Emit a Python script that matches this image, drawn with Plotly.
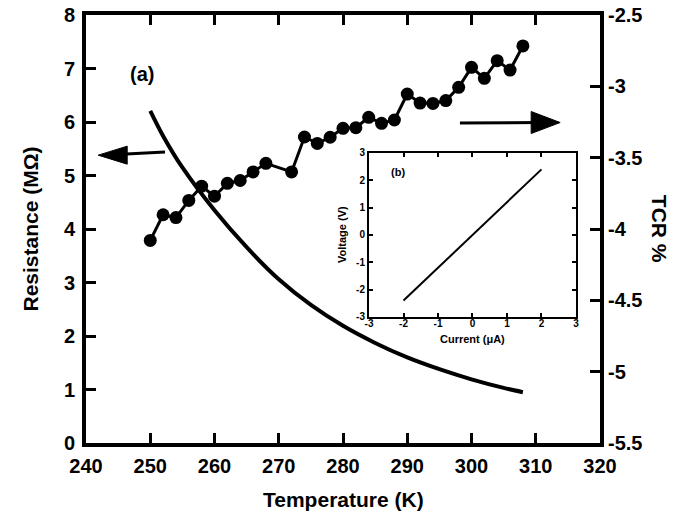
import plotly.graph_objects as go

# ---- data ----
tcr_temp = [250, 252, 254, 256, 258, 260, 262, 264, 266, 268,
            272, 274, 276, 278, 280, 282, 284, 286, 288, 290,
            292, 294, 296, 298, 300, 302, 304, 306, 308]
tcr_vals = [-4.08, -3.90, -3.92, -3.80, -3.70, -3.77, -3.68, -3.66, -3.60, -3.54,
            -3.60, -3.355, -3.40, -3.357, -3.294, -3.29, -3.217, -3.259, -3.236, -3.054,
            -3.117, -3.12, -3.10, -3.007, -2.867, -2.944, -2.82, -2.886, -2.717]

res_temp = [250, 252, 255, 260, 265, 270, 275, 280, 285, 290, 295, 300, 305, 308]
res_vals = [6.21, 5.74, 5.15, 4.35, 3.66, 3.06, 2.58, 2.19, 1.87, 1.60, 1.38, 1.19, 1.03, 0.95]

iv_current = [-2, 2]
iv_voltage = [-2.4, 2.4]

x_ticks = [240, 250, 260, 270, 280, 290, 300, 310, 320]
r_ticks = [0, 1, 2, 3, 4, 5, 6, 7, 8]
tcr_ticks = [-5.5, -5, -4.5, -4, -3.5, -3, -2.5]
tcr_labels = ["-5.5", "-5", "-4.5", "-4", "-3.5", "-3", "-2.5"]
inset_ticks = [-3, -2, -1, 0, 1, 2, 3]
inset_labels = ["-3", "-2", "-1", "0", "1", "2", "3"]

FONT = "Liberation Sans"
BLACK = "black"

fig = go.Figure()

fig.add_trace(go.Scatter(x=res_temp, y=res_vals, mode="lines",
                         line=dict(color=BLACK, width=4, shape="spline", smoothing=0.8),
                         xaxis="x", yaxis="y", showlegend=False))
fig.add_trace(go.Scatter(x=tcr_temp, y=tcr_vals, mode="lines+markers",
                         line=dict(color=BLACK, width=3),
                         marker=dict(color=BLACK, size=13),
                         xaxis="x", yaxis="y2", showlegend=False))
fig.add_trace(go.Scatter(x=iv_current, y=iv_voltage, mode="lines",
                         line=dict(color=BLACK, width=2),
                         xaxis="x2", yaxis="y3", showlegend=False))

main_tick = dict(family=FONT, size=20, color=BLACK, weight="bold")
inset_tick = dict(family=FONT, size=10, color=BLACK, weight="bold")

fig.update_layout(
    width=686, height=523,
    margin=dict(l=86, r=86, t=15, b=80),
    paper_bgcolor="white", plot_bgcolor="white",
    showlegend=False,
    xaxis=dict(domain=[0, 1], range=[240, 320], tickvals=x_ticks,
               ticks="inside", ticklen=10, tickwidth=3, tickcolor=BLACK,
               showline=True, linewidth=4, linecolor=BLACK, mirror="ticks",
               showgrid=False, zeroline=False, tickfont=main_tick, anchor="y",
               automargin=False, ticklabelstandoff=2),
    yaxis=dict(domain=[0, 1], range=[0, 8], tickvals=r_ticks,
               ticks="inside", ticklen=10, tickwidth=3, tickcolor=BLACK,
               showline=True, linewidth=4, linecolor=BLACK, mirror=False,
               showgrid=False, zeroline=False, tickfont=main_tick, anchor="x",
               automargin=False, ticklabelstandoff=3),
    yaxis2=dict(range=[-5.5, -2.5], tickvals=tcr_ticks, ticktext=tcr_labels,
                overlaying="y", side="right", anchor="x",
                ticks="inside", ticklen=10, tickwidth=3, tickcolor=BLACK,
                showline=True, linewidth=4, linecolor=BLACK,
                showgrid=False, zeroline=False, tickfont=main_tick,
                automargin=False),
    xaxis2=dict(domain=[0.5506, 0.9533], range=[-3, 3], tickvals=inset_ticks,
                ticktext=inset_labels,
                anchor="y3", ticks="inside", ticklen=4, tickwidth=1.5, tickcolor=BLACK,
                showline=True, linewidth=2, linecolor=BLACK, mirror="ticks",
                showgrid=False, zeroline=False, tickfont=inset_tick, automargin=False,
                ticklabelstandoff=-4),
    yaxis3=dict(domain=[0.2944, 0.6776], range=[-3, 3], tickvals=inset_ticks,
                ticktext=inset_labels,
                anchor="x2", ticks="inside", ticklen=4, tickwidth=1.5, tickcolor=BLACK,
                showline=True, linewidth=2, linecolor=BLACK, mirror="ticks",
                showgrid=False, zeroline=False, tickfont=inset_tick, automargin=False),
)

title_font = dict(family=FONT, size=21, color=BLACK, weight="bold")
annots = [
    dict(text="Temperature (K)", x=0.5, y=-0.133, xref="paper", yref="paper",
         showarrow=False, font=title_font, xanchor="center", yanchor="middle"),
    dict(text="Resistance (MΩ)", x=-0.108, y=0.5, xref="paper", yref="paper",
         showarrow=False, font=title_font, textangle=-90, xanchor="center", yanchor="middle"),
    dict(text="TCR %", x=1.117, y=0.5, xref="paper", yref="paper",
         showarrow=False, font=title_font, textangle=90, xanchor="center", yanchor="middle"),
    dict(text="(a)", x=248.7, y=6.9, xref="x", yref="y", showarrow=False,
         font=dict(family=FONT, size=20, color=BLACK, weight="bold")),
    dict(text="(b)", x=-2.16, y=2.32, xref="x2", yref="y3", showarrow=False,
         font=dict(family=FONT, size=11, color=BLACK, weight="bold")),
    dict(text="Voltage (V)", x=0.5506, y=0.486, xref="paper", yref="paper",
         xshift=-27, showarrow=False, textangle=-90, xanchor="center", yanchor="middle",
         font=dict(family=FONT, size=11, color=BLACK, weight="bold")),
    dict(text="Current (μA)", x=0.752, y=0.2944, xref="paper", yref="paper",
         yshift=-22, showarrow=False, xanchor="center", yanchor="middle",
         font=dict(family=FONT, size=11, color=BLACK, weight="bold")),
]
fig.update_layout(annotations=annots)

# direction arrows: shaft + filled head (head drawn in pixel units at the tip)
shapes = [
    dict(type="line", xref="x", yref="y", x0=252.3, y0=5.44, x1=244.0, y1=5.39,
         line=dict(color=BLACK, width=3)),
    dict(type="path", xref="x", yref="y", xsizemode="pixel", ysizemode="pixel",
         xanchor=241.9, yanchor=5.38, path="M0,0 L29,-9 L29,9 Z",
         fillcolor=BLACK, line=dict(color=BLACK, width=1)),
    dict(type="line", xref="x", yref="y", x0=298.2, y0=5.98, x1=311.0, y1=5.99,
         line=dict(color=BLACK, width=3)),
    dict(type="path", xref="x", yref="y", xsizemode="pixel", ysizemode="pixel",
         xanchor=313.8, yanchor=5.99, path="M0,0 L-29,-11 L-29,11 Z",
         fillcolor=BLACK, line=dict(color=BLACK, width=1)),
]
fig.update_layout(shapes=shapes)

# remove the page's default body margin so the figure sits at the window origin
fig.write_html("out.html",
               config={"displayModeBar": False},
               post_script="document.body.style.margin='0';document.body.style.overflow='hidden';")
